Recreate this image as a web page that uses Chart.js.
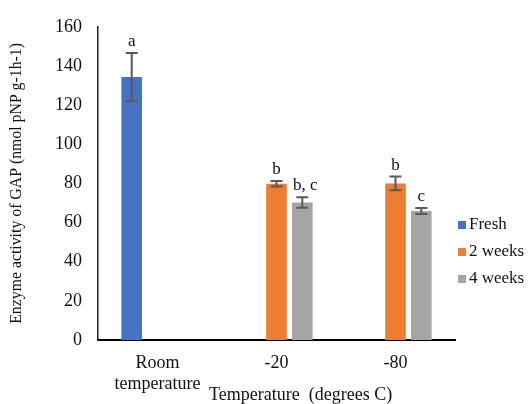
<!DOCTYPE html>
<html>
<head>
<meta charset="utf-8">
<script src="https://cdn.jsdelivr.net/npm/chart.js@4.4.1/dist/chart.umd.min.js"></script>
<style>
  body { margin: 0; background: #fff; }
  #chart { display: block; }
</style>
</head>
<body>
<canvas id="chart" width="531" height="404"></canvas>
<script>
// storage temperature groups
const categories = [['Room', 'temperature'], '-20', '-80'];
const seriesNames = ['Fresh', '2 weeks', '4 weeks'];

// mean GAP activity per group
const fresh = [134.3, null, null];
const twoWeeks = [null, 79.8, 80.0];
const fourWeeks = [null, 70.2, 65.9];

// standard error for each bar
const freshErr = [12.3, null, null];
const twoWeeksErr = [null, 1.4, 3.5];
const fourWeeksErr = [null, 2.7, 1.5];

// significance letters
const freshLetters = ['a', '', ''];
const twoWeeksLetters = ['', 'b', 'b'];
const fourWeeksLetters = ['', 'b, c', 'c'];

const yTicks = [0, 20, 40, 60, 80, 100, 120, 140, 160];

const serif = 'Liberation Serif, Times New Roman, serif';
const colors = ['#4472C4', '#ED7D31', '#A5A5A5'];

const errorBars = {
    id: 'errorBars',
    afterDatasetsDraw(chart) {
        const ctx = chart.ctx;
        const y = chart.scales.y;
        chart.data.datasets.forEach((ds, i) => {
            const meta = chart.getDatasetMeta(i);
            meta.data.forEach((bar, j) => {
                const v = ds.data[j];
                if (v == null) return;
                const e = ds.errors[j];
                const top = y.getPixelForValue(v + e);
                const bot = y.getPixelForValue(v - e);
                ctx.save();
                ctx.strokeStyle = '#595959';
                ctx.lineWidth = 2;
                ctx.beginPath();
                ctx.moveTo(bar.x, top); ctx.lineTo(bar.x, bot);
                ctx.moveTo(bar.x - 6, top); ctx.lineTo(bar.x + 6, top);
                ctx.moveTo(bar.x - 6, bot); ctx.lineTo(bar.x + 6, bot);
                ctx.stroke();
                // letter above the error bar
                const txt = ds.letters[j];
                if (txt) {
                    ctx.fillStyle = '#111';
                    ctx.font = '17px ' + serif;
                    ctx.textAlign = 'center';
                    ctx.textBaseline = 'alphabetic';
                    ctx.fillText(txt, bar.x + (txt.length > 1 ? 3 : 0), top - 7);
                }
                ctx.restore();
            });
        });
    }
};

const titlesAndLegend = {
    id: 'titlesAndLegend',
    afterDraw(chart) {
        const ctx = chart.ctx;
        const area = chart.chartArea;
        ctx.save();
        ctx.fillStyle = '#111';
        // y axis title
        ctx.font = '15.8px ' + serif;
        ctx.textAlign = 'center';
        ctx.textBaseline = 'middle';
        ctx.translate(17, (area.top + area.bottom) / 2);
        ctx.rotate(-Math.PI / 2);
        ctx.fillText('Enzyme activity of GAP (nmol pNP g-1h-1)', 0, 0);
        ctx.restore();

        ctx.save();
        ctx.fillStyle = '#111';
        ctx.font = '18px ' + serif;
        ctx.textAlign = 'left';
        ctx.textBaseline = 'middle';
        ctx.fillText('Temperature  (degrees C)', 209, 395);

        // legend
        ctx.font = '17px ' + serif;
        chart.data.datasets.forEach((ds, i) => {
            const cy = 225 + i * 27;
            ctx.fillStyle = ds.backgroundColor;
            ctx.fillRect(458, cy - 4, 8, 8);
            ctx.fillStyle = '#111';
            ctx.fillText(ds.label, 469, cy);
        });
        ctx.restore();
    }
};

function series(i, data, errors, letters) {
    return {
        label: seriesNames[i],
        data: data,
        errors: errors,
        letters: letters,
        backgroundColor: colors[i],
        categoryPercentage: 0.65,
        barPercentage: 0.8
    };
}

new Chart(document.getElementById('chart'), {
    type: 'bar',
    data: {
        labels: categories,
        datasets: [
            series(0, fresh, freshErr, freshLetters),
            series(1, twoWeeks, twoWeeksErr, twoWeeksLetters),
            series(2, fourWeeks, fourWeeksErr, fourWeeksLetters)
        ]
    },
    options: {
        responsive: false,
        animation: false,
        layout: { padding: { top: 22, right: 76, left: 0, bottom: 0 } },
        plugins: {
            legend: { display: false },
            tooltip: { enabled: false }
        },
        scales: {
            x: {
                grid: { display: false, drawTicks: false },
                border: { color: '#000', width: 2 },
                ticks: { color: '#111', font: { family: serif, size: 18 }, padding: 12, maxRotation: 0 },
                afterFit: s => { s.height = 64; }
            },
            y: {
                min: 0,
                max: 160,
                afterBuildTicks: s => { s.ticks = yTicks.map(v => ({ value: v })); },
                grid: { display: false, drawTicks: false },
                border: { color: '#222', width: 1.5 },
                ticks: { color: '#111', font: { family: serif, size: 18 }, padding: 16 },
                afterFit: s => { s.width = 98; }
            }
        }
    },
    plugins: [errorBars, titlesAndLegend]
});
</script>
</body>
</html>
